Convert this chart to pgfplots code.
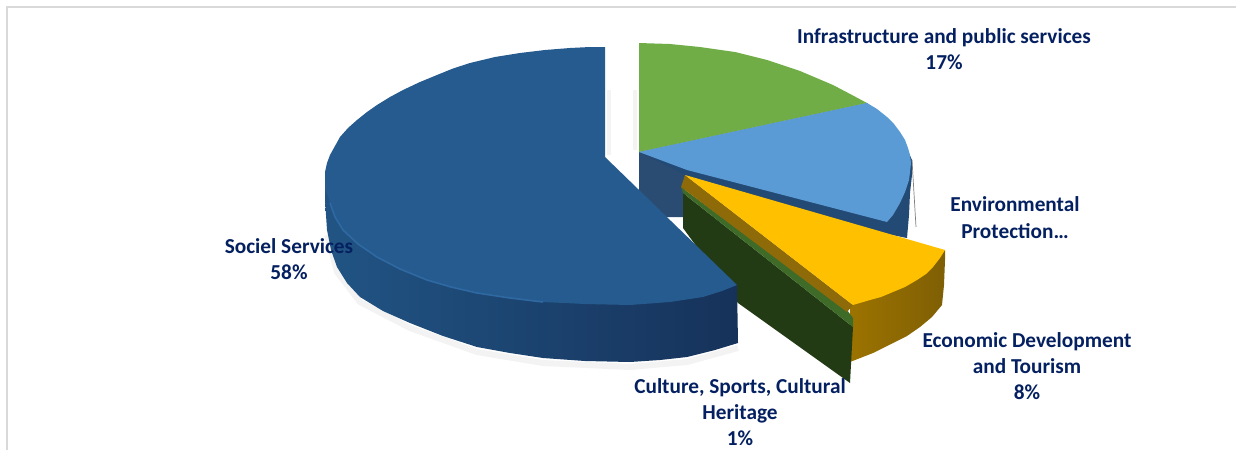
\documentclass[border=0pt]{standalone}
\usepackage{fontspec}
\setmainfont{Carlito}
\usepackage{pgfplots}
\pgfplotsset{compat=1.18}
\definecolor{framegray}{HTML}{D9D9D9}
\definecolor{labelnavy}{HTML}{042060}
\definecolor{bigtop}{HTML}{265B8F}
\definecolor{bigrim}{HTML}{2F69A2}
\definecolor{sideA}{HTML}{215484}
\definecolor{sideB}{HTML}{1E4A75}
\definecolor{sideC}{HTML}{16325A}
\definecolor{inner}{HTML}{2B4C72}
\definecolor{greentop}{HTML}{70AD47}
\definecolor{lightblue}{HTML}{5B9BD5}
\definecolor{rimblue}{HTML}{234A74}
\definecolor{gold}{HTML}{FFC000}
\definecolor{goldsideA}{HTML}{9C7300}
\definecolor{goldsideB}{HTML}{7F5F05}
\definecolor{goldinner}{HTML}{8F6A08}
\definecolor{darkgreen}{HTML}{233B14}
\definecolor{sliver}{HTML}{3F6B28}
\definecolor{softshadow}{HTML}{F3F3F3}
\newcommand{\lab}[3]{\node[anchor=base,text=labelnavy,font=\fontsize{21.3}{24}\selectfont\bfseries] at (axis cs:#1,#2) {#3};}
\begin{document}
\begin{tikzpicture}
\begin{axis}[
  width=1236pt, height=450pt, scale only axis,
  xmin=0, xmax=1236, ymin=0, ymax=450, y dir=reverse,
  hide axis]

% keeps the page at the full chart size
\addplot[draw=none] coordinates {(0,0) (1236,450)};

% chart frame
\addplot[framegray, line width=1.5pt] coordinates {(7,450) (7,7) (1236,7)};

% soft shadows
\addplot[softshadow, line width=6pt] coordinates {(327,235) (337,272) (360,302) (410,328) (477,352) (543,363) (630,367) (687,362) (738,348)};
\addplot[softshadow, line width=4pt] coordinates {(609,90) (609,155)};
\addplot[softshadow, line width=4pt] coordinates {(635,90) (635,150)};

% hidden inner wall of the right group
\addplot[fill=inner, draw=none] coordinates {(639,152) (687,170) (683,217) (670,217) (639,217)} -- cycle;

% light blue + green wedge
\addplot[fill=rimblue, draw=none] coordinates {(639,152) (687,176) (780,203) (887,234) (907,238) (909,215) (910,193) (912,175) (912,160) (903,140) (867,103)} -- cycle;
\addplot[gray, line width=0.7pt] coordinates {(912,160) (916,227)};
\addplot[fill=greentop, draw=none] coordinates {(639,43) (670,44) (700,47) (735,52) (767,60) (800,71) (833,85) (852,95) (867,103) (639,152)} -- cycle;
\addplot[fill=lightblue, draw=none] coordinates {(639,152) (867,103) (877,109) (887,117) (894,124) (900,132) (905,140) (908,148) (910,155) (911,163) (910,172) (909,180) (905,192) (900,203) (893,215) (887,222) (687,170)} -- cycle;

% gold outer wall, then the culture wedge in front of it
\addplot[left color=goldsideA, right color=goldsideB, draw=none] coordinates {(945,250) (945,260) (944,285) (942,305) (932,317) (920,327) (907,336) (893,343) (873,353) (850,362) (850,305)} -- cycle;
\addplot[fill=darkgreen, draw=none] coordinates {(683,193) (853,327) (850,383) (738,303) (683,228)} -- cycle;
\addplot[fill=sliver, draw=none] coordinates {(681,187) (847,310) (853,318) (853,327) (683,193)} -- cycle;

% gold wedge
\addplot[fill=goldinner, draw=none] coordinates {(685,175) (853,305) (847,312) (681,187)} -- cycle;
\addplot[fill=gold, draw=none] coordinates {(685,175) (945,250) (940,258) (933,267) (926,274) (917,280) (905,287) (893,292) (881,297) (870,300) (853,305)} -- cycle;

% big wedge
\addplot[left color=sideA, middle color=sideB, right color=sideC, draw=none] coordinates {(325,173) (325,200) (327,230) (331,250) (337,267) (347,283) (360,297) (383,311) (410,323) (443,336) (477,347) (510,353) (543,358) (585,361) (630,362) (660,360) (687,357) (715,350) (738,343) (737,285)} -- cycle;
\addplot[fill=bigtop, draw=none] coordinates {(605,47) (590,47) (570,48) (545,50) (520,53) (495,57) (470,63) (453,68.5) (437,75) (420,82) (403,90) (390,97) (377,105) (367,112) (357,120) (348,128) (340,137) (335,146) (330,155) (327,163) (325,172) (325,181) (325,190) (328,196) (330,203) (335,217) (343,230) (358,244) (377,257) (400,269) (427,280) (451,287) (477,293) (510,298) (543,302) (585,304) (630,305) (670,302) (703,297) (722,291) (737,285) (605,157)} -- cycle;
\addplot[bigrim, line width=1.6pt] coordinates {(330,203) (335,217) (343,230) (358,244) (377,257) (400,269) (427,280) (451,287) (477,293) (510,298) (543,302)};

% labels
\lab{944}{43}{Infrastructure and public services}
\lab{944}{69}{17\%}
\lab{1015}{211}{Environmental}
\lab{1015}{238}{Protection…}
\lab{1027}{347}{Economic Development}
\lab{1027}{373}{and Tourism}
\lab{1027}{399}{8\%}
\lab{740}{393}{Culture, Sports, Cultural}
\lab{740}{419}{Heritage}
\lab{740}{445}{1\%}
\lab{289}{253}{Sociel Services}
\lab{289}{279}{58\%}
\end{axis}
\end{tikzpicture}
\end{document}
